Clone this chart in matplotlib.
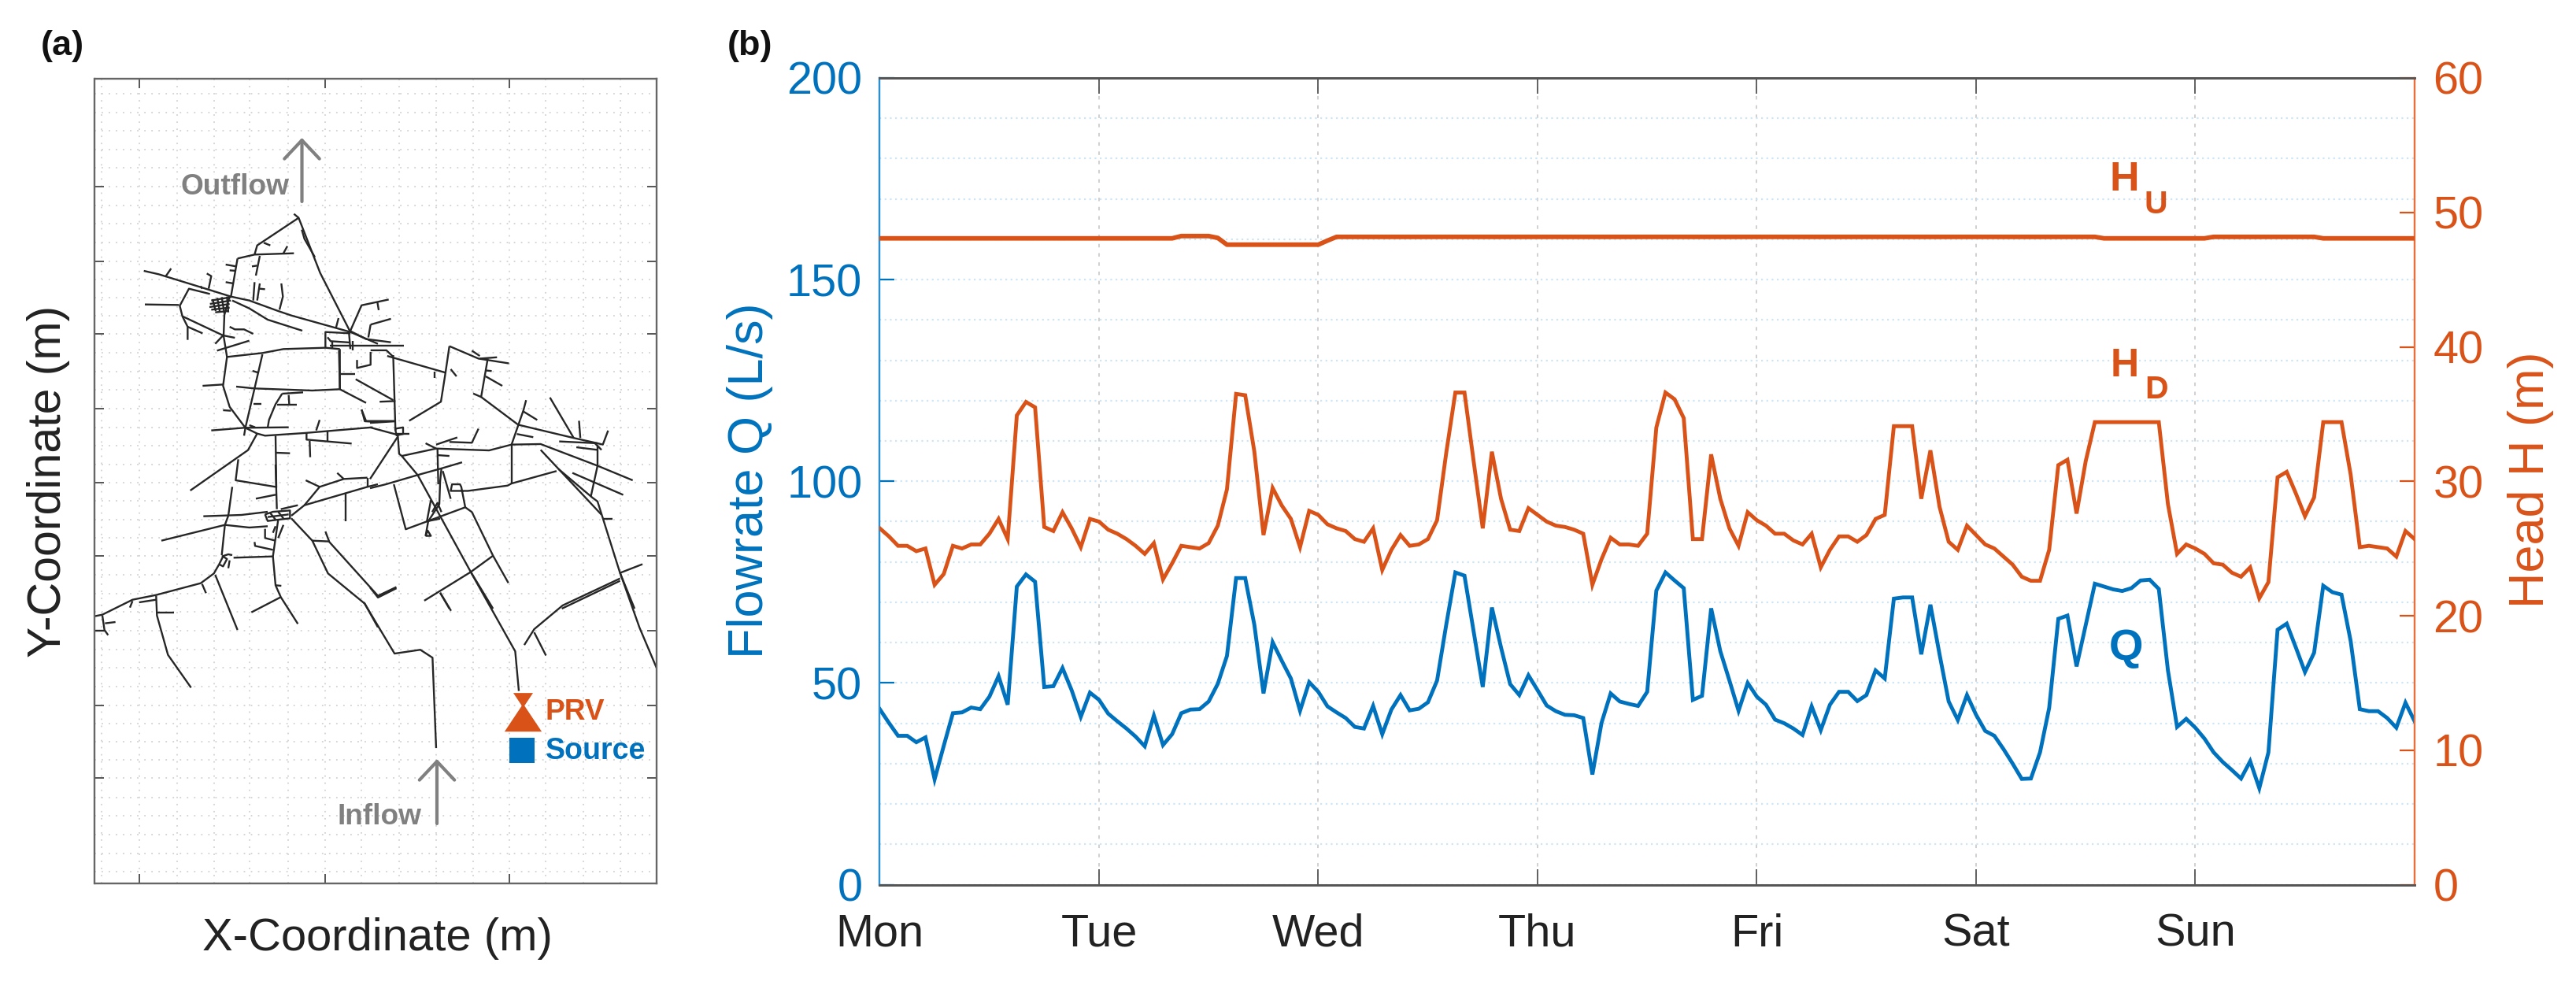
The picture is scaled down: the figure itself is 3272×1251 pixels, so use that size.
import numpy as np
import matplotlib
matplotlib.use("Agg")
import matplotlib.pyplot as plt
from matplotlib.ticker import FixedLocator, NullFormatter

W, H = 3273, 1251
plt.rcParams['font.family'] = ['Liberation Sans', 'DejaVu Sans']

DAYS = ['Mon', 'Tue', 'Wed', 'Thu', 'Fri', 'Sat', 'Sun']
DAY_HOURS = [0, 24, 48, 72, 96, 120, 144]
Q_TICKS = [0, 50, 100, 150, 200]
H_TICKS = [0, 10, 20, 30, 40, 50, 60]

FLOW_Q = [
 43.5,40.1,36.9,36.9,35.3,36.5,26.1,34.4,42.5,42.7,43.9,43.5,46.6,51.7,44.6,73.9,76.9,75.1,49.0,49.2,53.7,48.2,41.6,47.6,
 45.8,42.4,40.5,38.7,36.7,34.3,41.9,34.6,37.3,42.5,43.4,43.5,45.4,49.8,56.7,76.0,76.0,64.4,47.4,60.1,55.5,51.1,43.1,50.2,
 47.8,44.2,42.7,41.3,39.1,38.7,44.3,37.3,43.4,47.0,43.2,43.6,45.2,50.6,64.4,77.4,76.6,62.8,49.0,68.7,58.8,49.7,47.0,51.9,
 48.2,44.4,43.0,42.1,42.0,41.3,27.3,40.1,47.4,45.4,44.8,44.3,47.8,72.9,77.4,75.4,73.5,45.8,46.8,68.5,57.9,50.6,43.1,50.0,
 46.6,44.6,40.9,40.0,38.7,37.1,44.2,38.3,44.6,47.8,47.8,45.5,47.0,53.1,51.1,70.9,71.2,71.2,57.1,69.4,57.1,45.4,40.8,47.0,
 42.1,38.1,36.9,33.6,30.0,26.2,26.3,32.8,43.8,65.9,66.7,54.1,64.4,74.6,73.9,73.2,72.8,73.5,75.4,75.6,73.3,53.1,39.1,41.1,
 38.9,36.2,32.8,30.4,28.4,26.3,30.6,23.9,32.8,63.2,64.7,58.8,52.7,57.5,74.1,72.5,71.9,60.4,43.5,43.0,43.0,41.3,38.9,45.1,40.5]

HEAD_D = [
 26.5,25.9,25.2,25.2,24.8,25.0,22.3,23.1,25.2,25.0,25.3,25.3,26.1,27.2,25.7,34.9,35.9,35.5,26.6,26.3,27.7,26.5,25.1,27.2,
 27.0,26.4,26.1,25.7,25.2,24.6,25.4,22.7,23.9,25.2,25.1,25.0,25.4,26.7,29.4,36.5,36.4,32.2,26.0,29.5,28.2,27.2,25.1,27.8,
 27.5,26.8,26.5,26.3,25.7,25.5,26.5,23.4,24.9,26.0,25.2,25.3,25.7,27.1,32.1,36.6,36.6,31.5,26.5,32.2,28.7,26.4,26.3,28.0,
 27.5,27.0,26.7,26.6,26.4,26.1,22.3,24.2,25.8,25.3,25.3,25.2,26.1,34.0,36.6,36.1,34.7,25.7,25.7,32.0,28.7,26.5,25.2,27.7,
 27.1,26.7,26.1,26.1,25.6,25.3,26.1,23.6,24.9,25.9,25.9,25.5,26.0,27.2,27.5,34.1,34.1,34.1,28.7,32.3,28.1,25.5,24.9,26.7,
 26.0,25.3,25.0,24.4,23.8,22.9,22.6,22.6,24.9,31.2,31.6,27.6,31.5,34.4,34.4,34.4,34.4,34.4,34.4,34.4,34.4,28.3,24.6,25.3,
 25.0,24.6,23.9,23.8,23.2,22.9,23.6,21.3,22.5,30.3,30.7,29.1,27.4,28.8,34.4,34.4,34.4,30.5,25.1,25.2,25.1,25.0,24.4,26.3,25.7]

HEAD_U = ([48.07]*33 + [48.24]*4 + [48.1] + [47.6]*11 + [47.9]
          + [48.18]*84 + [48.07]*12 + [48.18]*12 + [48.07]*11)

# pipe network, polylines of relative map coordinates
NET_A = [
 [(545,205),(610,190),(760,185)],[(610,190),(620,155),(778,50),(860,260),(975,485)],[(790,95),(800,130),(840,200)],
 [(760,35),(778,50)],[(645,145),(670,155)],[(720,185),(735,158)],[(545,205),(520,350)],[(500,228),(540,235)],
 [(515,250),(540,252)],[(500,295),(530,300)],[(630,195),(615,270)],[(600,235),(620,232)],[(610,295),(605,365)],
 [(630,300),(620,365)],[(630,320),(650,322)],[(712,300),(718,350),(705,400)],
 [(188,252),(245,265),(440,325),(520,350),(590,365),(700,405),(750,422),(975,485),(1080,530)],
 [(270,275),(292,243)],[(428,262),(445,272),(435,320)],[(405,310),(410,320)],
 [(440,340),(360,320),(325,385),(335,425),(355,465),(355,515)],[(192,380),(322,382)],[(335,425),(490,498)],[(355,465),(412,490)],
 [(445,365),(520,352)],[(440,378),(520,365)],[(438,390),(515,378)],[(445,400),(515,392)],[(460,410),(510,405)],
 [(450,360),(462,405)],[(468,355),(478,410)],[(485,352),(495,415)],[(505,350),(510,410)],
 [(515,350),(495,420),(492,500),(505,580),(490,690),(515,770),(575,850)],[(412,690),(490,685)],[(490,783),(520,785)],
 [(525,365),(590,395),(660,438),(792,480)],[(515,465),(535,475),(570,475),(605,492)],[(460,530),(490,498),(535,507)],
 [(467,556),(590,518)],[(505,580),(640,565),(720,550),(880,545),(935,550)],[(640,570),(610,700),(575,850),(570,880)],
 [(602,633),(625,640)],[(605,758),(635,758)],[(540,693),(610,700),(830,708),(935,703)],[(445,860),(570,850),(740,848)],
 [(590,840),(612,848)],[(715,720),(690,760),(665,820),(660,850)],[(715,720),(795,715)],[(740,725),(742,760)],[(695,762),(770,762)],
 [(575,850),(620,872),(650,880),(800,870),(1060,848)],[(620,872),(585,935),(365,1089)],[(548,970),(538,1050),(690,1075)],
 [(690,880),(693,1078)],[(693,945),(745,947)],[(808,868),(808,895),(980,910)],[(820,900),(822,962)],[(888,862),(888,900)],
 [(858,820),(845,860)],[(935,550),(935,703),(1035,755)],[(880,545),(880,485),(975,490)],[(888,505),(900,520),(975,525)],
 [(905,520),(905,550)],[(970,490),(975,550)],[(985,520),(985,555)],[(920,470),(930,432)],[(1018,780),(1030,825),(1080,828)],
]
NET_Z = [
 [(775,1030),(800,950),(860,932)],[(835,940),(838,965)],[(820,1010),(865,992)],[(815,1050),(820,1010)],[(775,1030),(810,1055),(865,1065)],
 [(730,1075),(893,1075)],[(820,1090),(855,1090),(870,1110)],[(750,1090),(752,1210)],[(752,1163),(785,1163)],
 [(790,1120),(790,1145),(820,1135),(820,1095)],[(787,1180),(870,1245)],[(840,1250),(875,1248)],[(870,1105),(875,1340)],
 [(800,1275),(810,1310),(875,1310)],
]
NET_B = [
 [(65,155),(285,218)],[(300,118),(285,220),(268,328),(148,400)],[(300,118),(410,165),(525,183)],[(385,135),(415,155)],[(415,165),(480,160)],
 [(445,165),(420,310),(390,297)],[(420,310),(560,415)],[(440,210),(460,212)],[(437,232),(500,268)],[(245,215),(245,238)],[(305,205),(327,232)],
 [(0,408),(95,402)],[(0,425),(100,452)],[(95,430),(125,425),(125,450),(100,455),(95,430)],[(100,450),(148,450)],
 [(105,455),(110,525),(120,533),(250,505),(450,512),(535,490),(645,488),(860,570),(993,625)],
 [(0,655),(60,640),(180,605),(270,580),(348,557)],[(120,533),(180,605),(380,970),(465,1110)],[(105,460),(0,620)],
 [(90,640),(135,810),(360,727),(385,745),(465,910),(523,1013)],[(360,727),(345,650),(340,640),(310,640),(305,665),(370,665),(520,645),(535,637),(705,590)],
 [(645,510),(875,755)],[(712,582),(840,690),(860,705),(880,768),(945,975),(1000,1110)],[(535,490),(535,637)],[(535,490),(580,360),(590,322)],
 [(580,365),(632,397)],[(555,450),(617,462)],[(560,415),(770,465),(860,485)],[(680,312),(770,465)],[(790,400),(795,465)],[(715,478),(860,485)],
 [(780,500),(860,510)],[(860,485),(880,490),(900,437)],[(860,490),(860,570),(835,685)],[(850,485),(875,510)],[(765,597),(957,680)],
 [(880,770),(918,770)],[(945,975),(1030,942)],[(945,1005),(725,1110)],[(210,485),(250,505)],[(250,490),(330,463)],[(300,480),(385,483),(410,430)],
 [(255,505),(258,640)],[(258,530),(300,533)],[(270,580),(265,630),(262,715),(220,780),(210,835)],[(275,590),(305,695)],
 [(230,700),(215,780),(265,770)],[(235,745),(255,710),(270,745)],[(210,835),(230,835),(218,815),(210,835)],[(465,910),(380,972),(205,1080)],
 [(265,1050),(300,1110)],[(0,1030),(30,1068),(100,1033)],
]
NET_C = [
 [(525,85),(510,195),(497,230),(485,345)],[(415,197),(560,192),(660,180)],[(255,290),(497,230),(590,240),(660,235)],
 [(650,190),(680,180),(745,175),(745,205),(700,210),(660,215),(650,190)],[(670,185),(690,210)],[(700,180),(720,205)],[(660,200),(740,190)],
 [(690,0),(695,170)],[(615,130),(690,115)],[(775,155),(710,170)],[(750,195),(800,155),(1040,85),(1080,75)],
 [(800,155),(858,85),(950,55),(1040,50)],[(805,60),(858,85)],[(925,32),(950,55)],[(1040,50),(1040,85)],[(958,110),(958,215)],
 [(750,205),(830,290),(890,415),(1030,530),(1080,620)],[(830,290),(895,293)],[(880,255),(895,295),(1080,500)],
 [(700,210),(680,350),(690,460),(710,505),(775,607)],[(690,460),(712,462)],[(710,505),(598,563)],[(680,350),(530,355)],
 [(610,295),(612,310),(680,325)],[(650,245),(650,280),(690,290)],[(680,260),(690,235)],[(720,230),(700,280)],
 [(485,350),(510,342),(525,345)],[(475,380),(490,350),(505,360),(490,388),(475,380)],[(515,365),(510,395)],
 [(475,380),(455,415),(405,452),(235,497),(145,515),(30,572),(0,578)],[(460,420),(545,630)],[(410,455),(425,490)],[(135,545),(145,520)],
 [(170,525),(235,515)],[(235,500),(238,575),(280,725),(368,850)],[(238,563),(303,563)],[(30,575),(38,630),(52,650)],[(40,605),(80,600)],[(0,633),(40,633)],
]
NET_D = [
 [(1041,263),(1140,515),(1148,640)],[(974,330),(998,387)],[(1372,267),(1415,440),(1453,568)],
 [(1372,285),(1245,370),(1182,445),(1160,495)],[(1182,455),(1208,528)],[(805,360),(873,522),(930,510),(957,535),(965,820)],[(836,340),(877,312)],
]
MAP_X_TICKS = [177, 413, 647]
MAP_Y_TICKS = [237, 332, 424, 519, 613, 706, 801, 896, 988]
MAP_X_MINOR = [129,225,272,317,366,459,507,554,601,693,741,788]
MAP_Y_MINOR = [119,143,166,190,213,261,284,308,355,378,401,448,472,495,543,566,590,636,660,683,730,754,777,825,848,872,919,942,965,1013,1036,1060,1084,1107]
PRV_XY = (664, 911)
PRV_TOP_XY = (664, 889)
SOURCE_XY = (663.5, 952.5)

BLUE = '#0072BD'
ORANGE = '#D95319'
GREY = '#808080'
DARK = '#555555'

def axes_px(fig, l, t, r, b):
    return fig.add_axes([l/W, 1-b/H, (r-l)/W, (b-t)/H])

def put(fig, x, y, s, px, **kw):
    return fig.text(x/W, 1-y/H, s, fontsize=px*0.72, **kw)

fig = plt.figure(figsize=(W/100, H/100), dpi=100, facecolor='white')

# ---------- panel (a)
a = axes_px(fig, 120.5, 100, 834, 1122)
a.set_xlim(120.5, 834)
a.set_ylim(1122, 100)
a.set_xticks(MAP_X_TICKS)
a.set_yticks(MAP_Y_TICKS)
a.set_xticks(MAP_X_MINOR, minor=True)
a.set_yticks(MAP_Y_MINOR, minor=True)
a.set_xticklabels([]); a.set_yticklabels([])
a.tick_params(which='major', direction='in', length=8.5, width=1.4, color=DARK, top=True, right=True)
a.tick_params(which='minor', length=0)
a.grid(True, which='both', color='#D2D2D2', lw=1.3, ls=(0, (1, 4)))
a.set_axisbelow(True)
for s in a.spines.values():
    s.set_color('#666666'); s.set_linewidth(1.7)

def draw(lines, fx, fy):
    for ln in lines:
        xs = [fx(p[0]) for p in ln]
        ys = [fy(p[1]) for p in ln]
        a.plot(xs, ys, color='#262626', lw=1.7, solid_capstyle='butt', solid_joinstyle='round', clip_on=True)

draw(NET_A, lambda v: 120+v/3, lambda v: 260+v/3)
draw(NET_Z, lambda v: v/1.742, lambda v: v/2.45)
draw(NET_B, lambda v: 470+v/2.976, lambda v: 400+v/2.976)
draw(NET_C, lambda v: 120+v/3, lambda v: 590+v/3)
draw(NET_D, lambda v: v/1.742, lambda v: 620+v/2.485)

for base, tip in [((383.5, 256), (383.5, 175)), ((555, 1046), (555, 964))]:
    a.annotate('', xy=tip, xytext=base,
               arrowprops=dict(arrowstyle='->,head_length=0.85,head_width=0.8', mutation_scale=20,
                               color=GREY, lw=3, shrinkA=0, shrinkB=0))

a.plot([PRV_XY[0]], [PRV_XY[1]], marker=[(-1, -.75), (1, -.75), (0, .75)], ms=34, color=ORANGE, mew=0, ls='none')
a.plot([PRV_TOP_XY[0]], [PRV_TOP_XY[1]], marker=[(-1, .75), (1, .75), (0, -.75)], ms=18, color=ORANGE, mew=0, ls='none')
a.plot([SOURCE_XY[0]], [SOURCE_XY[1]], marker='s', ms=23.5, color=BLUE, mew=0, ls='none')

# ---------- panel (b)
b = axes_px(fig, 1117.5, 99, 3067, 1123.5)
hours = np.arange(len(FLOW_Q))
b.set_xlim(0, 168)
b.set_ylim(0, 200)
b.set_xticks(DAY_HOURS)
b.set_xticklabels(DAYS)
b.set_yticks(Q_TICKS)
b.yaxis.set_minor_locator(FixedLocator(list(range(10, 200, 10))))
b.yaxis.set_minor_formatter(NullFormatter())
b.tick_params(axis='x', direction='in', length=14.4, width=1.3, color=DARK, top=True,
              labelsize=41.5, labelcolor='#222222', pad=26)
b.tick_params(axis='y', which='major', direction='in', length=14, width=1.6, color=BLUE,
              labelcolor=BLUE, labelsize=41.5, pad=16)
b.tick_params(axis='y', which='minor', length=0)
b.grid(True, axis='y', which='both', color='#CFE5F5', lw=1.6, ls=(0, (1, 2)))
b.grid(True, axis='x', which='major', color='#CDCDCD', lw=1.3, ls=(0, (2.5, 4)))
b.set_axisbelow(True)
b.plot(hours, FLOW_Q, color=BLUE, lw=3.5, solid_joinstyle='miter', zorder=3)

r = b.twinx()
r.set_ylim(0, 60)
r.set_yticks(H_TICKS)
r.tick_params(axis='y', direction='in', length=14, width=1.6, color=ORANGE,
              labelcolor=ORANGE, labelsize=41.5, pad=17)
r.plot(np.arange(len(HEAD_D)), HEAD_D, color=ORANGE, lw=3.5, solid_joinstyle='miter', zorder=3)
r.plot(np.arange(len(HEAD_U)), HEAD_U, color=ORANGE, lw=4.2, zorder=3)
for ax in (b, r):
    ax.spines['top'].set_color(DARK); ax.spines['top'].set_linewidth(2)
    ax.spines['bottom'].set_color(DARK); ax.spines['bottom'].set_linewidth(2)
    ax.spines['left'].set_color('#2C8FD0'); ax.spines['left'].set_linewidth(1.6)
    ax.spines['right'].set_color('#E8703F'); ax.spines['right'].set_linewidth(1.6)

# ---------- texts
put(fig, 52, 70, '(a)', 45, fontweight='bold', color='#111111')
put(fig, 924, 70, '(b)', 45, fontweight='bold', color='#111111')
put(fig, 479, 1207, 'X-Coordinate (m)', 58, ha='center', color='#222222')
put(fig, 62, 611, 'Y-Coordinate (m)', 59, rotation=90, ha='center', va='center', color='#222222')
put(fig, 953, 610, 'Flowrate Q (L/s)', 63, rotation=90, ha='center', va='center', color=BLUE)
put(fig, 3215, 609, 'Head H (m)', 63, rotation=90, ha='center', va='center', color=ORANGE)
put(fig, 230, 247, 'Outflow', 37, fontweight='bold', color=GREY)
put(fig, 429, 1047, 'Inflow', 37, fontweight='bold', color=GREY)
put(fig, 693, 914, 'PRV', 37, fontweight='bold', color=ORANGE)
put(fig, 693, 964, 'Source', 37.5, fontweight='bold', color=BLUE)
put(fig, 2680, 242, 'H', 52, fontweight='bold', color=ORANGE)
put(fig, 2724, 271, 'U', 41, fontweight='bold', color=ORANGE)
put(fig, 2681, 478, 'H', 50, fontweight='bold', color=ORANGE)
put(fig, 2724, 506, 'D', 41, fontweight='bold', color=ORANGE)
put(fig, 2679, 838, 'Q', 56, fontweight='bold', color=BLUE)

fig.savefig('out.png', dpi=100, facecolor='white')
